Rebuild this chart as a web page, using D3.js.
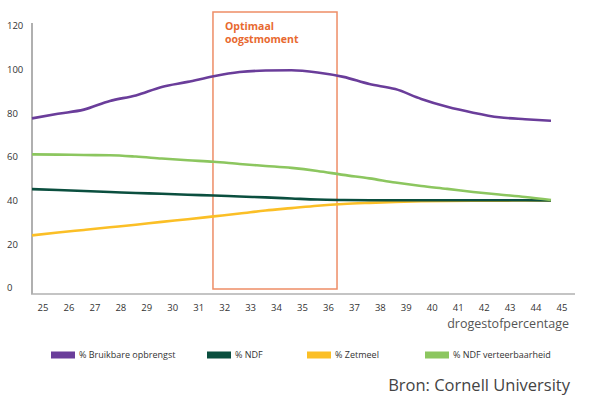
<!DOCTYPE html>
<html>
<head>
<meta charset="utf-8">
<script src="https://cdn.jsdelivr.net/npm/d3@7"></script>
<style>
  html, body { margin: 0; padding: 0; background: #fff; }
  svg { display: block; font-family: "Open Sans", "Noto Sans", sans-serif; }
</style>
</head>
<body>
<svg id="chart" width="600" height="399"></svg>
<script>
// ---- data ----
const xValues = [25,26,27,28,29,30,31,32,33,34,35,36,37,38,39,40,41,42,43,44,45];
const xTickLabels = [25,26,27,28,29,30,31,32,33,34,35,36,37,38,39,40,41,42,43,44,45];
const yTickLabels = [0,20,40,60,80,100,120];
const bruikbareOpbrengst = [77.7,79.8,81.7,85.7,88.2,92.1,94.4,97.0,98.9,99.6,99.7,98.7,96.7,93.4,91.1,86.6,83.0,80.3,78.2,77.3,76.6];
const ndf = [45.3,44.9,44.4,44.0,43.5,43.2,42.7,42.4,41.9,41.5,41.0,40.5,40.3,40.2,40.2,40.2,40.2,40.2,40.2,40.2,40.1];
const zetmeel = [24.1,25.4,26.6,27.8,29.0,30.3,31.5,32.8,34.1,35.5,36.6,37.7,38.5,39.0,39.4,39.7,39.9,40.0,40.0,40.1,40.1];
const ndfVerteerbaarheid = [61.2,61.1,60.9,60.8,60.2,59.3,58.5,57.8,56.8,55.9,55.0,53.6,51.8,50.2,48.3,46.7,45.4,44.0,42.8,41.7,40.3];
const seriesNames = ["% Bruikbare opbrengst", "% NDF", "% Zetmeel", "% NDF verteerbaarheid"];
const seriesColors = ["#6a3d9a", "#0b4f3f", "#fbbf26", "#8cc65f"];
const optimalRange = [31.55, 36.33];
const optimalLabel = ["Optimaal", "oogstmoment"];
const xTitle = "drogestofpercentage";
const sourceText = "Bron: Cornell University";

const svg = d3.select("#chart");

const x = d3.scaleLinear().domain([25, 45]).range([32, 551]);
const y = d3.scaleLinear().domain([0, 120]).range([288, 26]);
const labelShift = 11;

// optimal box
const box = svg.append("g");
box.append("rect")
  .attr("x", x(optimalRange[0]) + labelShift)
  .attr("y", 12)
  .attr("width", x(optimalRange[1]) - x(optimalRange[0]))
  .attr("height", 277)
  .attr("fill", "none")
  .attr("stroke", "#ee8d66")
  .attr("stroke-width", 1.5);
box.selectAll("text.opt").data(optimalLabel).enter().append("text")
  .attr("class", "opt")
  .attr("x", x(optimalRange[0]) + labelShift + 12)
  .attr("y", (d, i) => 30 + i * 13)
  .attr("fill", "#e8692f")
  .attr("font-size", 10.5)
  .attr("font-weight", "bold")
  .text(d => d);

// axes lines
svg.append("line").attr("x1", 32).attr("x2", 32).attr("y1", 23).attr("y2", 294)
  .attr("stroke", "#b0b0b0").attr("stroke-width", 2);
svg.append("line").attr("x1", 31).attr("x2", 575).attr("y1", 294).attr("y2", 294)
  .attr("stroke", "#b0b0b0").attr("stroke-width", 1.5);

// y tick labels
svg.selectAll("text.ytick").data(yTickLabels).enter().append("text")
  .attr("class", "ytick")
  .attr("x", 7)
  .attr("y", d => y(d))
  .attr("dy", "0.35em")
  .attr("font-size", 9.5)
  .attr("fill", "#333")
  .text(d => d);

// x tick labels
svg.selectAll("text.xtick").data(xTickLabels).enter().append("text")
  .attr("class", "xtick")
  .attr("x", d => x(d) + labelShift)
  .attr("y", 308)
  .attr("dy", "0.35em")
  .attr("text-anchor", "middle")
  .attr("font-size", 9.5)
  .attr("fill", "#333")
  .text(d => d);

svg.append("text")
  .attr("x", 569).attr("y", 328)
  .attr("text-anchor", "end")
  .attr("font-size", 12.5)
  .attr("fill", "#555")
  .text(xTitle);

// lines
const allSeries = [bruikbareOpbrengst, ndf, zetmeel, ndfVerteerbaarheid];
const line = d3.line()
  .x((d, i) => x(xValues[i]))
  .y(d => y(d))
  .curve(d3.curveMonotoneX);
// draw order: yellow, dark green, light green, purple
[2, 1, 3, 0].forEach(si => {
  svg.append("path")
    .datum(allSeries[si])
    .attr("d", line)
    .attr("fill", "none")
    .attr("stroke", seriesColors[si])
    .attr("stroke-width", 2.6)
    .attr("stroke-linejoin", "round");
});

// legend
const legendX = [51, 207, 307, 425];
const lg = svg.selectAll("g.legend").data(seriesNames).enter().append("g")
  .attr("class", "legend")
  .attr("transform", (d, i) => `translate(${legendX[i]},351.5)`);
lg.append("rect").attr("width", 24).attr("height", 7).attr("fill", (d, i) => seriesColors[i]);
lg.append("text").attr("x", 28).attr("y", 3.5).attr("dy", "0.35em")
  .attr("font-size", 9).attr("fill", "#333").text(d => d);

svg.append("text")
  .attr("x", 570).attr("y", 391)
  .attr("text-anchor", "end")
  .attr("font-size", 16.5)
  .attr("fill", "#444")
  .text(sourceText);
</script>
</body>
</html>
